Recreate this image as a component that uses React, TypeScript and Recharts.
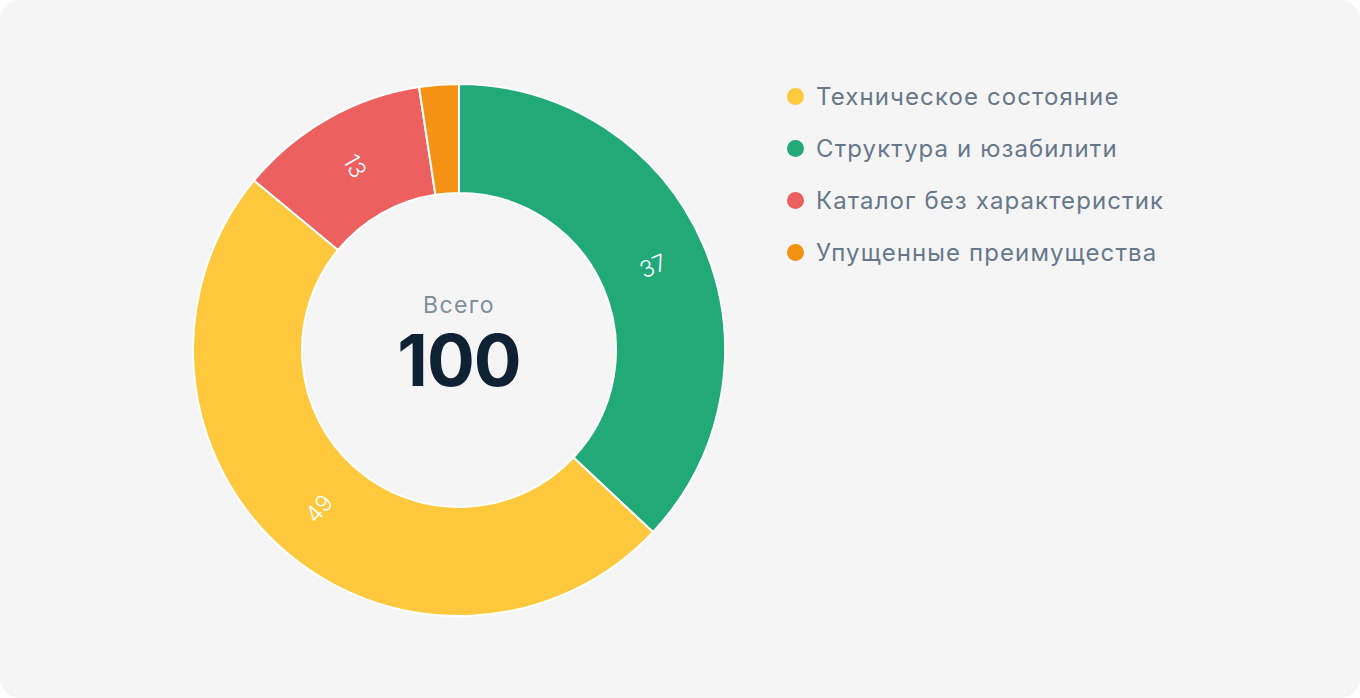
import { Pie, PieChart } from 'recharts';

// slice sizes as drawn (share of the ring), in clockwise order from 12 o'clock
const categories = ['Структура и юзабилити', 'Техническое состояние', 'Каталог без характеристик', 'Упущенные преимущества'];
const shares = [37, 49, 11.6, 2.4];
const shownValues = ['37', '49', '13', ''];
const colors = ['#21aa77', '#ffc83d', '#ec6060', '#f39214'];

// legend order as printed on the right
const legendOrder = ['Техническое состояние', 'Структура и юзабилити', 'Каталог без характеристик', 'Упущенные преимущества'];

const totalLabel = 'Всего';
const totalValue = 100;

document.body.style.margin = '0';

const data = categories.map((name, i) => ({ name, value: shares[i], shown: shownValues[i], fill: colors[i] }));

const RADIAN = Math.PI / 180;

function SliceLabel(props: any) {
  const { cx, cy, midAngle, innerRadius, outerRadius, index } = props;
  const text = data[index]?.shown;
  if (!text) return null;
  const r = (innerRadius + outerRadius) / 2;
  const x = cx + r * Math.cos(-midAngle * RADIAN);
  const y = cy + r * Math.sin(-midAngle * RADIAN);
  let rot = -midAngle;
  while (rot > 90) rot -= 180;
  while (rot <= -90) rot += 180;
  return (
    <text
      x={x}
      y={y}
      fill="#fff"
      fontSize={23}
      fontFamily="Inter, sans-serif"
      fontWeight={300}
      textAnchor="middle"
      dominantBaseline="central"
      transform={`rotate(${rot} ${x} ${y})`}
    >
      {text}
    </text>
  );
}

function LegendList() {
  return (
    <ul style={{ listStyle: 'none', margin: 0, padding: 0, fontFamily: 'Inter, sans-serif' }}>
      {legendOrder.map((name) => (
        <li
          key={name}
          style={{ display: 'flex', alignItems: 'center', height: 52, fontSize: 24, letterSpacing: 1.1, color: '#66798a' }}
        >
          <span
            style={{
              width: 17,
              height: 17,
              borderRadius: '50%',
              background: colors[categories.indexOf(name)],
              marginRight: 12,
              flex: 'none',
            }}
          />
          {name}
        </li>
      ))}
    </ul>
  );
}

export default function App() {
  return (
    <div style={{ width: 1360, height: 698, background: '#fff', position: 'relative' }}>
      <div style={{ position: 'absolute', inset: 0, background: '#f5f5f5', borderRadius: 20 }} />
      <div style={{ position: 'absolute', left: 0, top: 0 }}>
        <PieChart width={1360} height={698} margin={{ top: 0, right: 0, bottom: 0, left: 0 }}>
          <Pie
            data={data}
            dataKey="value"
            nameKey="name"
            cx={459}
            cy={350}
            innerRadius={157}
            outerRadius={266}
            startAngle={90}
            endAngle={-270}
            stroke="#ffffff"
            strokeWidth={2}
            labelLine={false}
            label={SliceLabel}
            isAnimationActive={false}
          />
        </PieChart>
      </div>
      <div style={{ position: 'absolute', left: 787, top: 70 }}>
        <LegendList />
      </div>
      <div
        style={{
          position: 'absolute',
          left: 459 - 150,
          top: 288,
          width: 300,
          textAlign: 'center',
          fontFamily: 'Inter, sans-serif',
          pointerEvents: 'none',
        }}
      >
        <div style={{ fontSize: 23, letterSpacing: 1.4, color: '#7f909d', lineHeight: '34px' }}>{totalLabel}</div>
        <div style={{ fontSize: 71, fontWeight: 700, color: '#0f2233', lineHeight: '76px', letterSpacing: -1 }}>
          {totalValue}
        </div>
      </div>
    </div>
  );
}
